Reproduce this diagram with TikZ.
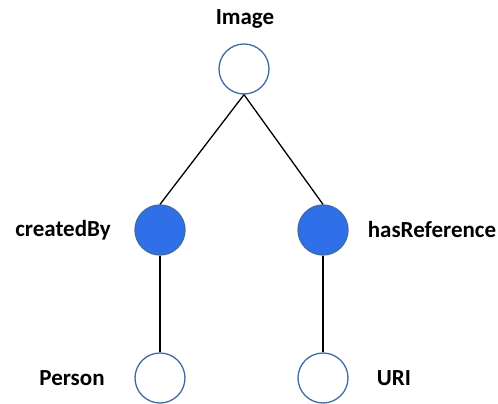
\documentclass[tikz,border=0pt]{standalone}
\usepackage{fontspec}
\setmainfont{Carlito}
\usetikzlibrary{positioning}
\definecolor{rimblue}{HTML}{3F6AA6}
\definecolor{fillblue}{HTML}{2F70E8}

\begin{document}
\begin{tikzpicture}[x=1pt,y=-1pt]
  % some styles
  \tikzset{
    emptynode/.style={
      circle,
      minimum size=50pt,
      inner sep=0pt,
      line width=1.3pt,
      draw=rimblue,
      fill=white
    }
  }
  \tikzset{fullnode/.style={emptynode,fill=fillblue}}
  \tikzset{lbl/.style={font=\fontsize{23}{27}\selectfont\bfseries,inner sep=0pt}}
  \tikzset{edge/.style={line width=1.3pt,black}}

\useasboundingbox (0,0) rectangle (498,404);

% circles
\node[emptynode] (image) at (244,69) {};
\node[fullnode] (createdby) at (160,230) {};
\node[fullnode] (hasref) at (323,230) {};
\node[emptynode] (person) at (160,378) {};
\node[emptynode] (uri) at (323,378) {};

% labels
\node[lbl] (imagelbl) at (245,19) {Image};
\node[lbl] (createdbylbl) at (63,230) {createdBy};
\node[lbl] (hasreflbl) at (432,230) {hasReference};
\node[lbl] (personlbl) at (72,378) {Person};
\node[lbl] (urilbl) at (394,378) {URI};

% edges
\draw[edge] (image.south) -- (createdby.north);
\draw[edge] (image.south) -- (hasref.north);
\draw[edge] (createdby.south) -- (person.north);
\draw[edge] (hasref.south) -- (uri.north);

\end{tikzpicture}
\end{document}
